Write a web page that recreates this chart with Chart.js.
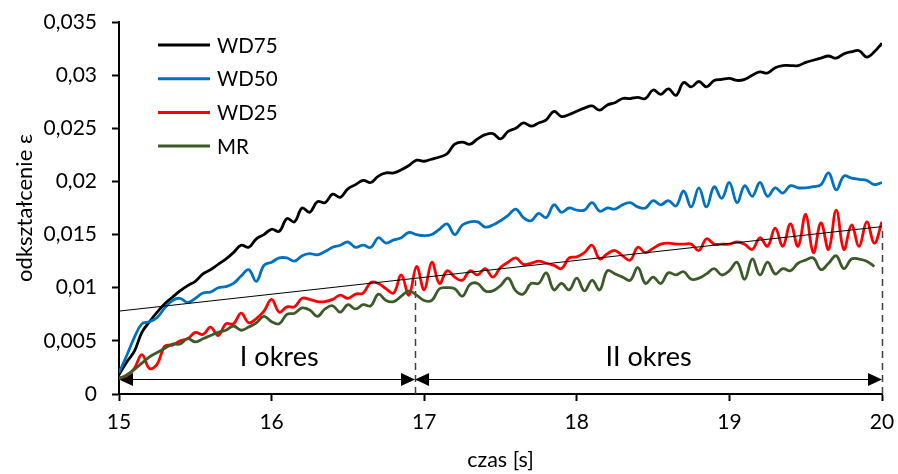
<!DOCTYPE html>
<html lang="pl">
<head>
<meta charset="utf-8">
<title>Odkształcenie w czasie</title>
<script src="https://cdn.jsdelivr.net/npm/chart.js@4.4.1/dist/chart.umd.min.js"></script>
<style>
  html, body { margin: 0; padding: 0; background: #ffffff; }
  #wrap { width: 898px; height: 474px; position: relative; }
</style>
</head>
<body>
<div id="wrap"><canvas id="wykres" width="898" height="474"></canvas></div>
<script>
// Czas próbkowania [s]
const czas = [
  15.00,15.05,15.10,15.15,15.20,15.25,15.30,15.35,15.40,15.45,
  15.50,15.55,15.60,15.65,15.70,15.75,15.80,15.85,15.90,15.95,
  16.00,16.05,16.10,16.15,16.20,16.25,16.30,16.35,16.40,16.45,
  16.50,16.55,16.60,16.65,16.70,16.75,16.80,16.85,16.90,16.95,
  17.00,17.05,17.10,17.15,17.20,17.25,17.30,17.35,17.40,17.45,
  17.50,17.55,17.60,17.65,17.70,17.75,17.80,17.85,17.90,17.95,
  18.00,18.05,18.10,18.15,18.20,18.25,18.30,18.35,18.40,18.45,
  18.50,18.55,18.60,18.65,18.70,18.75,18.80,18.85,18.90,18.95,
  19.00,19.05,19.10,19.15,19.20,19.25,19.30,19.35,19.40,19.45,
  19.50,19.55,19.60,19.65,19.70,19.75,19.80,19.85,19.90,19.95,
  20.00
];

// Odkształcenie ε dla poszczególnych mieszanek
const wd75 = [
  0.0018,0.0030,0.0040,0.0058,0.0068,0.0077,0.0085,0.0091,0.0097,0.0102,
  0.0106,0.0113,0.0117,0.0122,0.0127,0.0133,0.0140,0.0138,0.0146,0.0150,
  0.0155,0.0153,0.0165,0.0162,0.0175,0.0171,0.0181,0.0180,0.0188,0.0185,
  0.0193,0.0197,0.0201,0.0199,0.0205,0.0208,0.0208,0.0211,0.0215,0.0220,
  0.0219,0.0221,0.0223,0.0226,0.0235,0.0237,0.0235,0.0240,0.0244,0.0245,
  0.0240,0.0247,0.0250,0.0255,0.0252,0.0255,0.0258,0.0266,0.0261,0.0263,
  0.0266,0.0269,0.0271,0.0267,0.0272,0.0274,0.0278,0.0278,0.0279,0.0278,
  0.0286,0.0282,0.0287,0.0281,0.0293,0.0289,0.0294,0.0289,0.0295,0.0296,
  0.0297,0.0295,0.0296,0.0300,0.0303,0.0302,0.0307,0.0309,0.0309,0.0309,
  0.0312,0.0314,0.0316,0.0318,0.0316,0.0320,0.0322,0.0323,0.0317,0.0322,
  0.0330
];
const wd50 = [
  0.0020,0.0036,0.0053,0.0066,0.0068,0.0072,0.0081,0.0088,0.0090,0.0086,
  0.0090,0.0095,0.0096,0.0100,0.0101,0.0104,0.0111,0.0117,0.0106,0.0121,
  0.0124,0.0128,0.0128,0.0125,0.0130,0.0132,0.0131,0.0134,0.0138,0.0140,
  0.0143,0.0138,0.0140,0.0138,0.0147,0.0142,0.0145,0.0147,0.0152,0.0150,
  0.0149,0.0150,0.0155,0.0160,0.0150,0.0159,0.0162,0.0162,0.0157,0.0159,
  0.0163,0.0168,0.0174,0.0166,0.0163,0.0170,0.0166,0.0178,0.0171,0.0175,
  0.0173,0.0173,0.0180,0.0172,0.0175,0.0174,0.0178,0.0180,0.0176,0.0175,
  0.0182,0.0178,0.0182,0.0177,0.0191,0.0176,0.0194,0.0176,0.0195,0.0184,
  0.0199,0.0180,0.0196,0.0186,0.0199,0.0186,0.0194,0.0189,0.0196,0.0194,
  0.0194,0.0195,0.0197,0.0208,0.0192,0.0205,0.0203,0.0202,0.0201,0.0197,
  0.0199
];
const wd25 = [
  0.0015,0.0017,0.0024,0.0037,0.0024,0.0028,0.0045,0.0046,0.0050,0.0052,
  0.0058,0.0056,0.0063,0.0055,0.0066,0.0066,0.0076,0.0067,0.0071,0.0078,
  0.0089,0.0077,0.0082,0.0082,0.0090,0.0089,0.0087,0.0087,0.0089,0.0093,
  0.0090,0.0094,0.0095,0.0105,0.0104,0.0099,0.0095,0.0112,0.0093,0.0120,
  0.0098,0.0124,0.0104,0.0116,0.0110,0.0107,0.0116,0.0112,0.0118,0.0110,
  0.0119,0.0124,0.0128,0.0122,0.0123,0.0125,0.0123,0.0121,0.0118,0.0128,
  0.0129,0.0133,0.0140,0.0127,0.0132,0.0135,0.0130,0.0126,0.0138,0.0133,
  0.0137,0.0141,0.0142,0.0141,0.0141,0.0141,0.0135,0.0146,0.0141,0.0141,
  0.0141,0.0143,0.0141,0.0136,0.0147,0.0139,0.0156,0.0139,0.0160,0.0139,
  0.0169,0.0133,0.0161,0.0136,0.0173,0.0136,0.0159,0.0139,0.0162,0.0142,
  0.0162
];
const mr = [
  0.0014,0.0018,0.0023,0.0029,0.0035,0.0039,0.0043,0.0047,0.0047,0.0052,
  0.0049,0.0052,0.0055,0.0058,0.0060,0.0064,0.0060,0.0063,0.0067,0.0073,
  0.0068,0.0066,0.0075,0.0076,0.0081,0.0079,0.0073,0.0080,0.0083,0.0077,
  0.0084,0.0080,0.0084,0.0083,0.0094,0.0088,0.0087,0.0092,0.0097,0.0093,
  0.0088,0.0088,0.0099,0.0100,0.0099,0.0092,0.0103,0.0104,0.0097,0.0097,
  0.0102,0.0109,0.0097,0.0094,0.0104,0.0104,0.0114,0.0098,0.0104,0.0098,
  0.0109,0.0097,0.0107,0.0098,0.0116,0.0113,0.0110,0.0107,0.0119,0.0104,
  0.0110,0.0104,0.0114,0.0112,0.0115,0.0108,0.0109,0.0113,0.0118,0.0112,
  0.0116,0.0124,0.0108,0.0127,0.0112,0.0124,0.0113,0.0118,0.0116,0.0123,
  0.0126,0.0128,0.0117,0.0123,0.0130,0.0118,0.0127,0.0127,0.0125,0.0120,
  null
];

// Linia trendu (początek i koniec)
const trendCzas = [15, 20];
const trendWartosci = [0.0078, 0.01575];

// Granice okresów: czas i wysokość linii przerywanej
const graniceCzas = [16.94, 20];
const graniceGora = [0.0107, 0.0158];

// Okresy zaznaczone strzałkami
const okresyOd = [15, 16.94];
const okresyDo = [16.94, 20];
const okresyNazwy = ['I okres', 'II okres'];
const okresyOpisCzas = [16.05, 18.47];
const strzalkaPoziom = 0.0014;
const opisPoziom = 0.0035;

// Opisy osi
const etykietyX = ['15', '16', '17', '18', '19', '20'];
const etykietyY = ['0', '0,005', '0,01', '0,015', '0,02', '0,025', '0,03', '0,035'];
const nazwySerii = ['WD75', 'WD50', 'WD25', 'MR'];

const FONT = 'Lato, "Open Sans", sans-serif';
const kolory = ['#000000', '#0070C0', '#FF0000', '#3B5B29'];

const seria = (i, dane, kolejnosc) => ({
  label: nazwySerii[i],
  data: dane,
  borderColor: kolory[i],
  backgroundColor: kolory[i],
  borderWidth: 2.8,
  pointRadius: 0,
  tension: 0.4,
  fill: false,
  order: kolejnosc
});

const okresy = {
  id: 'okresy',
  beforeDatasetsDraw(chart) {
    const { ctx, scales: { x, y } } = chart;
    ctx.save();
    // pionowe linie przerywane
    ctx.strokeStyle = '#404040';
    ctx.lineWidth = 1.5;
    ctx.setLineDash([7, 5]);
    graniceCzas.forEach((t, i) => {
      const px = Math.round(x.getPixelForValue(t)) + 0.5;
      ctx.beginPath();
      ctx.moveTo(px, y.getPixelForValue(0));
      ctx.lineTo(px, y.getPixelForValue(graniceGora[i]));
      ctx.stroke();
    });
    ctx.setLineDash([]);
    // strzałki okresów
    const py = Math.round(y.getPixelForValue(strzalkaPoziom)) + 0.5;
    const dl = 14, pol = 6.5;
    ctx.strokeStyle = '#000';
    ctx.fillStyle = '#000';
    ctx.lineWidth = 1;
    okresyOd.forEach((a, i) => {
      const pa = x.getPixelForValue(a);
      const pb = x.getPixelForValue(okresyDo[i]);
      ctx.beginPath();
      ctx.moveTo(pa + dl - 2, py);
      ctx.lineTo(pb - dl + 2, py);
      ctx.stroke();
      ctx.beginPath();
      ctx.moveTo(pa, py);
      ctx.lineTo(pa + dl, py - pol);
      ctx.lineTo(pa + dl, py + pol);
      ctx.closePath();
      ctx.fill();
      ctx.beginPath();
      ctx.moveTo(pb, py);
      ctx.lineTo(pb - dl, py - pol);
      ctx.lineTo(pb - dl, py + pol);
      ctx.closePath();
      ctx.fill();
      // nazwa okresu
      ctx.font = '27px ' + FONT;
      ctx.textAlign = 'center';
      ctx.textBaseline = 'middle';
      ctx.fillText(okresyNazwy[i], x.getPixelForValue(okresyOpisCzas[i]), y.getPixelForValue(opisPoziom));
    });
    ctx.restore();
  },
  afterDraw(chart) {
    // legenda wewnątrz obszaru wykresu
    const { ctx, chartArea } = chart;
    ctx.save();
    ctx.font = '20.5px ' + FONT;
    ctx.textAlign = 'left';
    ctx.textBaseline = 'middle';
    nazwySerii.forEach((n, i) => {
      const yy = chartArea.top + 23 + i * 33.7;
      ctx.strokeStyle = kolory[i];
      ctx.lineWidth = 3;
      ctx.beginPath();
      ctx.moveTo(chartArea.left + 39, yy);
      ctx.lineTo(chartArea.left + 91, yy);
      ctx.stroke();
      ctx.fillStyle = '#000';
      ctx.fillText(n, chartArea.left + 98, yy + 1);
    });
    ctx.restore();
  }
};

new Chart(document.getElementById('wykres'), {
  type: 'line',
  data: {
    labels: czas,
    datasets: [
      {
        label: 'trend',
        data: trendCzas.map((t, i) => ({ x: t, y: trendWartosci[i] })),
        borderColor: '#000',
        borderWidth: 1,
        pointRadius: 0,
        tension: 0,
        fill: false,
        order: 0
      },
      seria(3, mr, 1),
      seria(2, wd25, 2),
      seria(1, wd50, 3),
      seria(0, wd75, 4)
    ]
  },
  options: {
    responsive: false,
    animation: false,
    events: [],
    layout: { padding: { left: 0, right: 16, top: 22, bottom: 0 } },
    plugins: { legend: { display: false }, tooltip: { enabled: false } },
    scales: {
      x: {
        type: 'linear',
        min: 15,
        max: 20,
        afterFit: s => { s.height = 80; s.paddingLeft = 0; s.paddingRight = 0; },
        afterBuildTicks: s => { s.ticks = etykietyX.map(v => ({ value: Number(v) })); },
        ticks: {
          callback: (v, i) => etykietyX[i],
          color: '#000',
          font: { family: FONT, size: 21 },
          padding: 9,
          maxRotation: 0
        },
        grid: { drawOnChartArea: false, drawTicks: true, tickLength: 7, tickWidth: 2, tickColor: '#000' },
        border: { color: '#000', width: 2 },
        title: {
          display: true,
          text: 'czas [s]',
          color: '#000',
          font: { family: FONT, size: 21.5 },
          padding: { top: 0, bottom: 1 }
        }
      },
      y: {
        min: 0,
        max: 0.035,
        afterFit: s => { s.width = 119; s.paddingTop = 0; s.paddingBottom = 0; },
        afterBuildTicks: s => { s.ticks = etykietyY.map(v => ({ value: Number(v.replace(',', '.')) })); },
        ticks: {
          callback: (v, i) => etykietyY[i],
          color: '#000',
          font: { family: FONT, size: 21 },
          padding: 15
        },
        grid: { drawOnChartArea: false, drawTicks: true, tickLength: 7, tickWidth: 2, tickColor: '#000' },
        border: { color: '#000', width: 2 },
        title: {
          display: true,
          text: 'odkształcenie ε',
          color: '#000',
          font: { family: FONT, size: 22 },
          padding: { top: 12, bottom: 0 }
        }
      }
    }
  },
  plugins: [okresy]
});
</script>
</body>
</html>
